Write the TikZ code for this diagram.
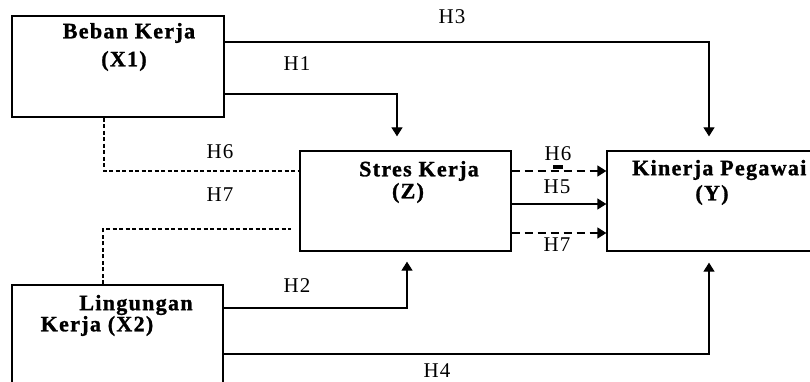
\documentclass[tikz,border=0pt]{standalone}
\usepackage{fontspec}
\setmainfont{Liberation Serif}[LetterSpace=6, BoldFeatures={FakeBold=1.2}]
\usetikzlibrary{arrows.meta}
\tikzset{
  var/.style={draw=black, line width=1.3pt, fill=white, inner sep=0pt},
  ttl/.style={font=\bfseries\fontsize{22}{22}\selectfont, inner sep=0pt},
  hyp/.style={font=\fontsize{21}{21}\selectfont, inner sep=0pt},
  flow/.style={-{Triangle[length=9pt,width=11pt]}, line width=1.3pt},
  link/.style={line width=1.2pt, dash pattern=on 4pt off 2.5pt},
  medflow/.style={flow, line width=1.6pt, dash pattern=on 8pt off 5pt},
}
\begin{document}
\begin{tikzpicture}[x=1pt,y=-1pt]
  \useasboundingbox (0,0) rectangle (810,382);
  \clip (0,0) rectangle (810,382);

  % variables
  \node[var, minimum width=212pt, minimum height=101pt] (X1) at (118,66.5) {};
  \node[var, minimum width=211pt, minimum height=130pt] (X2) at (117.5,350) {};
  \node[var, minimum width=211pt, minimum height=100pt] (Z) at (405.5,201) {};
  \node[var, minimum width=204pt, minimum height=100pt] (Y) at (709,201) {};

  \node[ttl] (X1a) at (129,33) {Beban Kerja};
  \node[ttl] (X1b) at (124,61) {(X1)};
  \node[ttl] (Za) at (419,171) {Stres Kerja};
  \node[ttl] (Zb) at (408,193) {(Z)};
  \node[ttl, anchor=west] (Ya) at (632,170) {Kinerja Pegawai};
  \node[ttl] (Yb) at (712,195) {(Y)};
  \node[ttl] (X2a) at (136,305) {Lingungan};
  \node[ttl] (X2b) at (97,326) {Kerja (X2)};

  % direct paths
  \draw[flow, shorten >=14pt] ([yshift=24.5pt]X1.east) -| (Y.north);
  \draw[flow, shorten >=14pt] ([yshift=-27.5pt]X1.east) -| ([xshift=-8.5pt]Z.north);
  \draw[flow, shorten >=10pt] ([yshift=42pt]X2.east) -| ([xshift=1.5pt]Z.south);
  \draw[flow, shorten >=11pt] ([yshift=-4pt]X2.east) -| (Y.south);
  \draw[flow] ([yshift=-3pt]Z.east) -- ([yshift=-3pt]Y.west);

  % mediated paths
  \draw[link] ([xshift=-14pt]X1.south) |- ([yshift=30pt]Z.west);
  \draw[link, shorten >=8pt] ([xshift=-14.5pt]X2.north) |- ([yshift=-28pt]Z.west);
  \draw[medflow] ([yshift=30pt]Z.east) -- ([yshift=30pt]Y.west);
  \draw[medflow] ([yshift=-32pt]Z.east) -- ([yshift=-32pt]Y.west);
  \node[fill=black, minimum width=10pt, minimum height=4pt, inner sep=0pt] (tick) at (558,167) {};

  \node[hyp] (H3) at (452,17) {H3};
  \node[hyp] (H1) at (297,64) {H1};
  \node[hyp] (H6a) at (220,152) {H6};
  \node[hyp] (H7a) at (220,195) {H7};
  \node[hyp] (H2) at (297,286) {H2};
  \node[hyp] (H4) at (437,371) {H4};
  \node[hyp] (H6b) at (558,154) {H6};
  \node[hyp] (H5) at (557,187) {H5};
  \node[hyp] (H7b) at (557,245) {H7};
\end{tikzpicture}
\end{document}
